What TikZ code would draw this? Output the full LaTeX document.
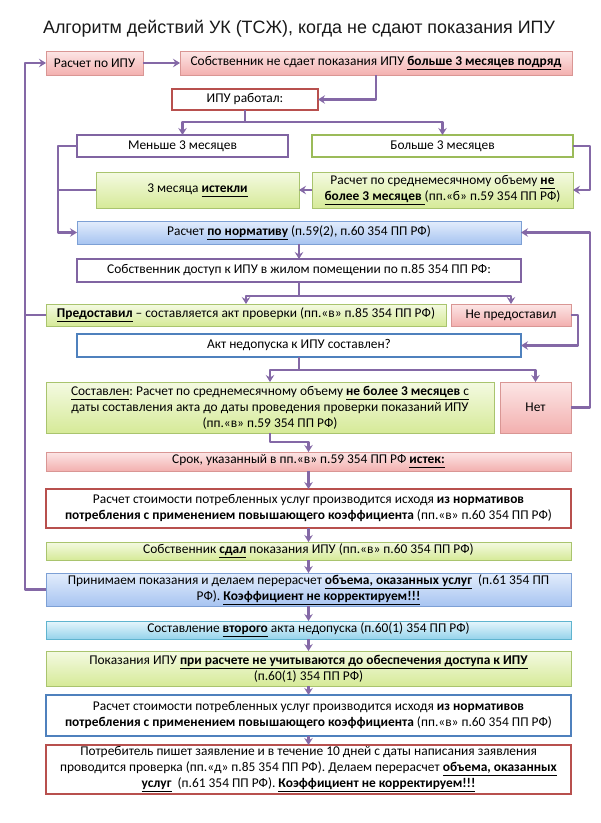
\documentclass[tikz,border=0pt]{standalone}
\usepackage{fontspec}
\setmainfont{Carlito}
\newfontfamily\titlefont{Liberation Sans}
\usetikzlibrary{arrows.meta,shadows}
\definecolor{conncol}{HTML}{8468A6}
\definecolor{redline}{HTML}{D99694}
\definecolor{redtop}{HTML}{FCE6E6}
\definecolor{redbot}{HTML}{F3B0AF}
\definecolor{grnline}{HTML}{A9C46E}
\definecolor{grntop}{HTML}{F4FAE2}
\definecolor{grnbot}{HTML}{D6EA98}
\definecolor{blueline}{HTML}{7DA0D5}
\definecolor{bluetop}{HTML}{E3EDFC}
\definecolor{bluebot}{HTML}{A7C4F1}
\definecolor{cyanline}{HTML}{5FB4CF}
\definecolor{cyantop}{HTML}{E6F6FC}
\definecolor{cyanbot}{HTML}{95D3EB}
\definecolor{purpthick}{HTML}{8064A2}
\definecolor{grnthick}{HTML}{9BBB59}
\definecolor{redthick}{HTML}{B8504E}
\definecolor{bluethick}{HTML}{4F81BD}
\AtBeginDocument{\frenchspacing}
\newcommand\bx[7]{\node[#6, minimum width={#4-#2}, minimum height={#5-#3}] (#1) at ({(#2+#4)/2},{(#3+#5)/2}) {#7};}
\newcommand\myul[1]{\underline{#1\vphantom{ру}}}
\newcommand\bu[1]{\textbf{\myul{#1}}}
\tikzset{
  boxbase/.style={rectangle, align=center, inner sep=1pt, outer sep=0pt, text=black,
    font=\fontsize{13.4}{16}\selectfont\frenchspacing,
    drop shadow={shadow xshift=1.3pt, shadow yshift=-1.3pt, opacity=0.22}},
  redbox/.style={boxbase, draw=redline, line width=0.8pt, top color=redtop, bottom color=redbot},
  grnbox/.style={boxbase, draw=grnline, line width=0.8pt, top color=grntop, bottom color=grnbot},
  bluebox/.style={boxbase, draw=blueline, line width=0.8pt, top color=bluetop, bottom color=bluebot},
  cyanbox/.style={boxbase, draw=cyanline, line width=0.8pt, top color=cyantop, bottom color=cyanbot},
  wpurp/.style={boxbase, draw=purpthick, line width=2.8pt, fill=white},
  wgrn/.style={boxbase, draw=grnthick, line width=2.8pt, fill=white},
  wred/.style={boxbase, draw=redthick, line width=2.8pt, fill=white},
  wblue/.style={boxbase, draw=bluethick, line width=2.8pt, fill=white},
  cline/.style={draw=conncol, line width=2.3pt, line join=round},
  arr/.style={cline, -{Stealth[length=7pt,width=8.5pt,inset=2.5pt]}},
}
\begin{document}
\begin{tikzpicture}[x=1pt,y=-1pt]
\fill[white] (0,0) rectangle (601,823);
\useasboundingbox (0,0) rectangle (601,823);
\node[font=\titlefont\fontsize{17.9}{21}\selectfont, text=black!90] (title) at (299,29) {Алгоритм действий УК (ТСЖ), когда не сдают показания ИПУ};
\coordinate (ox) at (25,0);
\coordinate (lx) at (58,0);

\bx{A}{46}{51}{143}{75}{redbox}{Расчет по ИПУ}
\bx{B}{180}{51}{572}{75}{redbox}{Собственник не сдает показания ИПУ \bu{больше 3 месяцев подряд}}
\bx{C}{172}{89}{318}{110}{wred}{ИПУ работал:}
\bx{D}{77}{135}{288}{157}{wpurp}{Меньше 3 месяцев}
\bx{E}{312}{135}{573}{157}{wgrn}{Больше 3 месяцев}
\bx{F}{96}{172}{299}{208}{grnbox}{3 месяца \bu{истекли}}
\bx{G}{312}{172}{573}{208}{grnbox}{Расчет по среднемесячному объему \bu{не}\\\bu{более 3 месяцев}\myul{ }(пп.«б» п.59 354 ПП РФ)}
\bx{H}{77}{221}{521}{244}{bluebox}{Расчет \bu{по нормативу} (п.59(2), п.60 354 ПП РФ)}
\bx{I}{77}{259}{521}{282}{wpurp}{Собственник доступ к ИПУ в жилом помещении по п.85 354 ПП РФ:}
\bx{J}{46}{304}{446}{326}{grnbox}{\bu{Предоставил} – составляется акт проверки (пп.«в» п.85 354 ПП РФ)}
\bx{K}{451}{304}{571}{326}{redbox}{Не предоставил}
\bx{L}{77}{334}{521}{357}{wblue}{Акт недопуска к ИПУ составлен?}
\bx{M}{46}{382}{494}{433}{grnbox}{\myul{Составлен}: Расчет по среднемесячному объему \bu{не более 3 месяцев}\myul{ с}\\даты составления акта до даты проведения проверки показаний ИПУ\\(пп.«в» п.59 354 ПП РФ)}
\bx{N}{500}{382}{571}{433}{redbox}{Нет}
\bx{O}{46}{452}{571}{471}{redbox}{Срок, указанный в пп.«в» п.59 354 ПП РФ \bu{истек:}}
\bx{P}{46}{489}{571}{528}{wred}{Расчет стоимости потребленных услуг производится исходя \textbf{из нормативов}\\\textbf{потребления с применением повышающего коэффициента} (пп.«в» п.60 354 ПП РФ)}
\bx{Q}{46}{542}{571}{560}{grnbox}{Собственник \bu{сдал} показания ИПУ (пп.«в» п.60 354 ПП РФ)}
\bx{R}{46}{573}{571}{606}{bluebox}{Принимаем показания и делаем перерасчет \bu{объема, оказанных услуг}~ (п.61 354 ПП\\РФ). \bu{Коэффициент не корректируем!!!}}
\bx{S}{46}{621}{571}{639}{cyanbox}{Составление \bu{второго} акта недопуска (п.60(1) 354 ПП РФ)}
\bx{T}{46}{651}{571}{686}{grnbox}{Показания ИПУ \bu{при расчете не учитываются до обеспечения доступа к ИПУ}\\(п.60(1) 354 ПП РФ)}
\bx{U}{46}{695}{571}{736}{wblue}{Расчет стоимости потребленных услуг производится исходя \textbf{из нормативов}\\\textbf{потребления с применением повышающего коэффициента} (пп.«в» п.60 354 ПП РФ)}
\bx{V}{46}{745}{571}{794}{wred}{Потребитель пишет заявление и в течение 10 дней с даты написания заявления\\проводится проверка (пп.«д» п.85 354 ПП РФ). Делаем перерасчет \bu{объема, оказанных}\\\bu{услуг}~ (п.61 354 ПП РФ). \bu{Коэффициент не корректируем!!!}}

% connectors
\draw[arr] (A.east) -- (B.west);
\draw[arr] (B.south) |- (C.east);
\draw[arr] (C.south) -- ++(0,12) -| (D.north);
\draw[arr] (C.south) -- ++(0,12) -| (E.north);
\draw[arr] (E.east) -- ++(17,0) |- (G.east);
\draw[arr] (G.west) -- (F.east);
\draw[arr] (D.west) -- (D.west -| lx) |- (H.west);
\draw[cline] (F.west) -- (F.west -| lx);
\draw[arr] (H.south) -- (I.north);
\draw[arr] (I.south) -- ++(0,14) -| (J.north);
\draw[arr] (I.south) -- ++(0,14) -| (K.north);
\draw[cline] (J.west) -- (J.west -| ox);
\draw[arr] (K.east) -- ++(7,0) |- (L.east);
\draw[arr] (L.south) -- ++(0,13) -| (M.north);
\draw[arr] (L.south) -- ++(0,13) -| (N.north);
\draw[arr] (N.east) -- ++(19,0) |- (H.east);
\draw[arr] (M.south) -- ++(0,9) -| (O.north);
\draw[arr] (O.south) -- (P.north);
\draw[arr] (P.south) -- (Q.north);
\draw[arr] (Q.south) -- (R.north);
\draw[arr] (R.south) -- (S.north);
\draw[arr] (S.south) -- (T.north);
\draw[arr] (T.south) -- (U.north);
\draw[arr] (U.south) -- (V.north);
\draw[arr] (R.west) -- (R.west -| ox) |- (A.west);
\end{tikzpicture}
\end{document}
